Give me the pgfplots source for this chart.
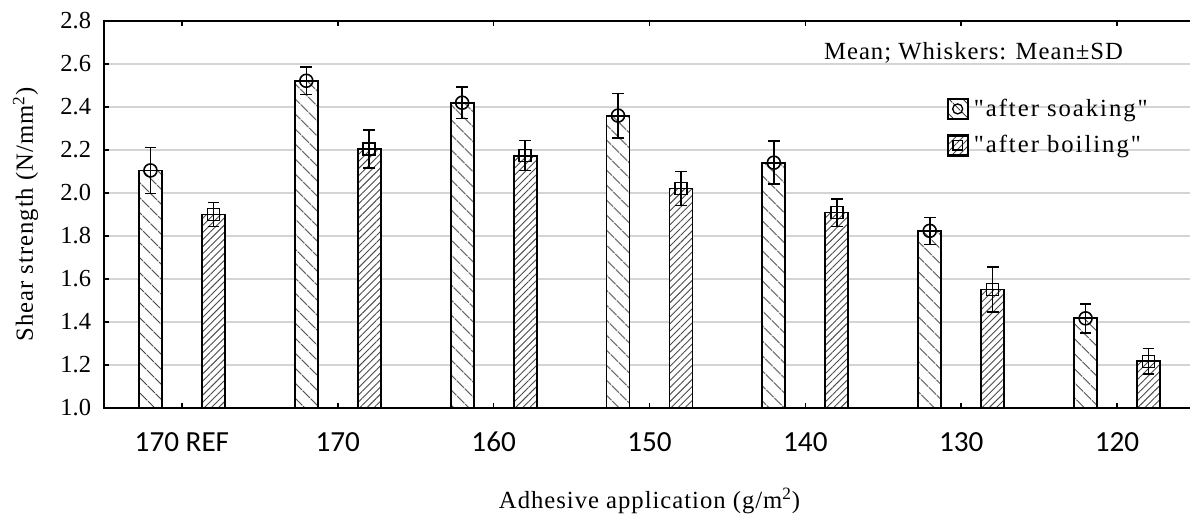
\documentclass[border=0pt]{standalone}
\usepackage{fontspec}
\setmainfont{Liberation Serif}
\newfontfamily\carlito{Carlito}
\newfontfamily\spaced{Liberation Serif}[LetterSpace=4]
\newfontfamily\spacedwide{Liberation Serif}[LetterSpace=8]
\usepackage{pgfplots}
\pgfplotsset{compat=1.18}
\usepackage{pgfplotstable}
\usetikzlibrary{patterns.meta,calc}

% mean and SD per adhesive application
\pgfplotstableread{
x soak sdsoak boil sdboil
0 2.105 0.107 1.900 0.055
1 2.522 0.064 2.205 0.089
2 2.420 0.074 2.174 0.070
3 2.360 0.103 2.021 0.079
4 2.141 0.100 1.909 0.064
5 1.824 0.063 1.551 0.105
6 1.417 0.067 1.217 0.060
}\datatable

\tikzset{
  soakfill/.style={fill=white, postaction={pattern={Lines[angle=-45,distance=6.5pt,line width=0.6pt]}, pattern color=black!75}},
  boilfill/.style={fill=white, postaction={pattern={Lines[angle=45,distance=3pt,line width=0.55pt]}, pattern color=black!70}},
}

\begin{document}
\begin{tikzpicture}
\begin{axis}[
    scale only axis,
    width=654.6pt, height=232.2pt,
    xmin=-0.5, xmax=6.5,
    ymin=1.0, ymax=2.8,
    xtick={0,1,2,3,4,5,6},
    xticklabels={170 REF,170,160,150,140,130,120},
    ytick={1.0,1.2,...,2.8},
    yticklabel style={/pgf/number format/fixed, /pgf/number format/fixed zerofill,
        /pgf/number format/precision=1, /pgf/number format/assume math mode=true,
        font=\fontsize{14.7}{17}\selectfont, xshift=-4.2pt},
    tick align=inside,
    major tick length=3pt,
    tick style={black, line width=0.9pt},
    axis line style={line width=1.2pt},
    ymajorgrids,
    grid style={black!17, line width=0.9pt},
    xticklabel style={font=\carlito\fontsize{17.5}{20}\selectfont, anchor=center, yshift=-20.4pt},
    xlabel={Adhesive application (g/m\textsuperscript{2})},
    ylabel={Shear strength (N/mm\textsuperscript{2})},
    every axis x label/.style={at={([yshift=-60pt]rel axis cs:0.5,0)}, anchor=base, font=\spaced\fontsize{14.8}{18}\selectfont},
    every axis y label/.style={at={([xshift=-42.6pt]rel axis cs:0,0.5)}, anchor=base, rotate=90, font=\spaced\fontsize{14.8}{18}\selectfont},
    legend style={draw=none, fill=none, at={(rel axis cs:0.772,0.808)}, anchor=north west,
        font=\spacedwide\fontsize{14.8}{18}\selectfont, row sep=6pt, inner sep=0pt},
    legend cell align=left,
]

\addplot[ybar, bar width=0.148, bar shift=-0.202, draw=black, line width=1.1pt, soakfill, forget plot]
    table[x=x, y=soak] {\datatable};
\addplot[ybar, bar width=0.148, bar shift=0.202, draw=black, line width=1.1pt, boilfill, forget plot]
    table[x=x, y=boil] {\datatable};

\addplot[only marks, mark=o, mark size=3.9pt, black, line width=0.95pt, forget plot,
    error bars/.cd, y dir=both, y explicit,
    error bar style={line width=0.95pt},
    error mark options={rotate=90, mark size=3.5pt, line width=0.95pt}]
    table[x expr=\thisrow{x}-0.202, y=soak, y error=sdsoak] {\datatable};
\addplot[only marks, mark=square, mark size=3.6pt, black, line width=0.95pt, forget plot,
    error bars/.cd, y dir=both, y explicit,
    error bar style={line width=0.95pt},
    error mark options={rotate=90, mark size=3.5pt, line width=0.95pt}]
    table[x expr=\thisrow{x}+0.202, y=boil, y error=sdboil] {\datatable};

\addlegendimage{legend image code/.code={
    \draw[line width=1.3pt, soakfill] (0pt,-6pt) rectangle (12pt,6pt);
    \draw[line width=0.8pt] (6pt,0pt) circle (3pt);
    \path (13.5pt,0pt);}}
\addlegendentry{"after soaking"}
\addlegendimage{legend image code/.code={
    \draw[line width=1.3pt, boilfill] (0pt,-6pt) rectangle (12pt,6pt);
    \draw[line width=0.8pt] (3.2pt,-2.8pt) rectangle (8.8pt,2.8pt);
    \path (13.5pt,0pt);}}
\addlegendentry{"after boiling"}

\node[font=\spaced\fontsize{14.8}{18}\selectfont] at (rel axis cs:0.797,0.917) {Mean; Whiskers: Mean±SD};

\coordinate (bl) at (rel axis cs:0,0);
\coordinate (tr) at (rel axis cs:1,1);
\end{axis}
\pgfresetboundingbox
\path ($(bl)+(-62.4pt,-63pt)$) rectangle ($(tr)+(-3pt,12.6pt)$);
\end{tikzpicture}
\end{document}
